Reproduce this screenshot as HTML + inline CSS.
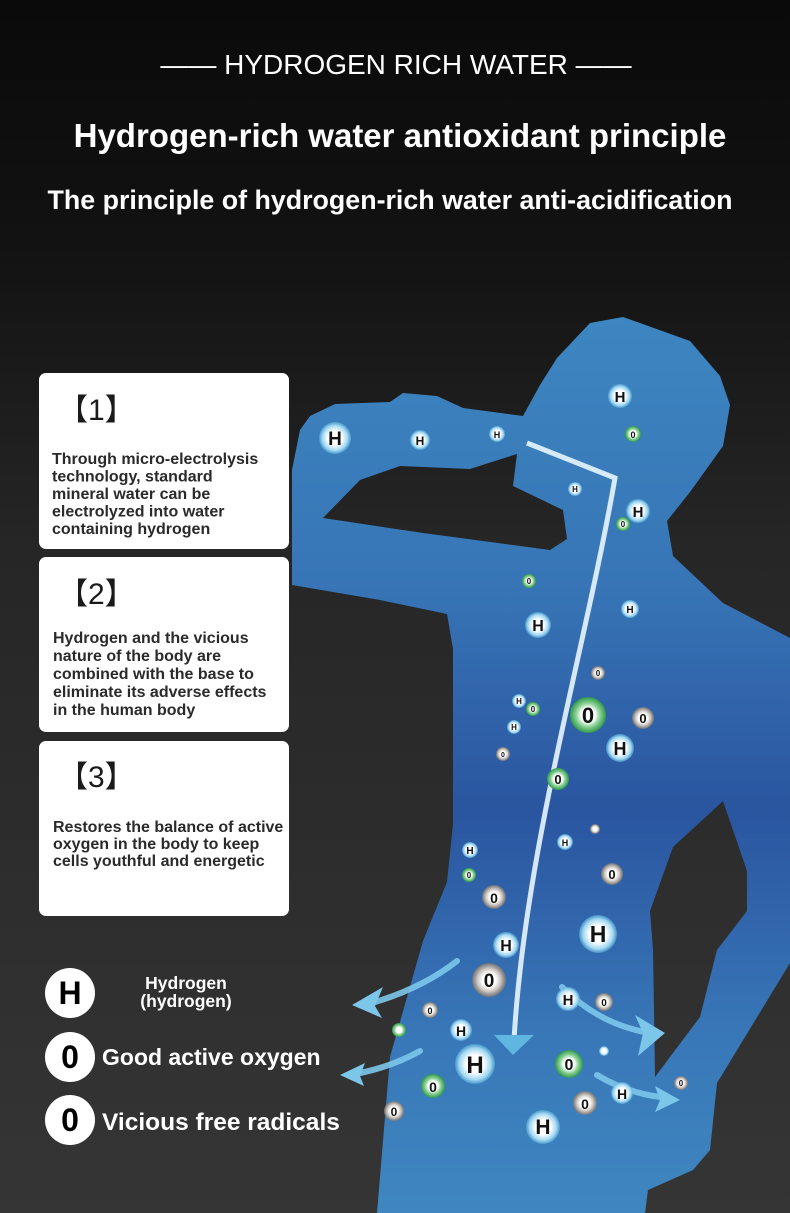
<!DOCTYPE html>
<html><head><meta charset="utf-8"><style>
html,body{margin:0;padding:0;width:790px;height:1213px;overflow:hidden;background:#111}
svg{display:block}
text{font-family:"Liberation Sans","DejaVu Sans",sans-serif}
</style></head><body>
<svg width="790" height="1213" viewBox="0 0 790 1213" xmlns="http://www.w3.org/2000/svg">
<defs>
<linearGradient id="bg" x1="0" y1="0" x2="0" y2="1">
<stop offset="0" stop-color="#0a0a0a"/><stop offset="0.2" stop-color="#121212"/><stop offset="0.45" stop-color="#262626"/><stop offset="1" stop-color="#353535"/>
</linearGradient>
<linearGradient id="body" x1="0" y1="0" x2="0" y2="1">
<stop offset="0" stop-color="#3d86c1"/><stop offset="0.3" stop-color="#3775b6"/><stop offset="0.55" stop-color="#2a55a0"/><stop offset="0.8" stop-color="#3877b8"/><stop offset="1" stop-color="#3f87c0"/>
</linearGradient>
<radialGradient id="gH" cx="0.5" cy="0.5" r="0.5"><stop offset="0.45" stop-color="#ffffff"/><stop offset="0.8" stop-color="#9fd6f0"/><stop offset="1" stop-color="#5ab0de" stop-opacity="0.6"/></radialGradient>
<radialGradient id="gG" cx="0.5" cy="0.5" r="0.5"><stop offset="0.4" stop-color="#ffffff"/><stop offset="0.65" stop-color="#8fd39a"/><stop offset="1" stop-color="#2f9a48"/></radialGradient>
<radialGradient id="gR" cx="0.5" cy="0.5" r="0.5"><stop offset="0.4" stop-color="#ffffff"/><stop offset="0.7" stop-color="#c9c2bc"/><stop offset="1" stop-color="#7d7670" stop-opacity="0.8"/></radialGradient>
</defs>
<rect width="790" height="1213" fill="url(#bg)"/>

<!-- titles -->
<text x="396" y="74" fill="#fff" font-size="28" text-anchor="middle">—— HYDROGEN RICH WATER ——</text>
<text x="400" y="147" fill="#fff" font-size="33" font-weight="bold" text-anchor="middle">Hydrogen-rich water antioxidant principle</text>
<text x="390" y="209" fill="#fff" font-size="26.8" font-weight="bold" text-anchor="middle">The principle of hydrogen-rich water anti-acidification</text>

<!-- body -->
<path fill="url(#body)" fill-rule="evenodd" d="
M310 416 L335 404 L390 402 L403 393 L437 396 L463 408 L523 416 L540 385 L557 358 L590 323 L623 317 L690 341 L720 376 L730 405 L723 446 L690 492 L667 521 L673 556 L723 603 L790 638 L790 963 L717 1083 L710 1150 L693 1170 L648 1190 L645 1213 L377 1213 L390 1057 L423 941 L447 882 L453 824 L453 649 L447 614 L380 600 L292 585 L292 470 L300 430 Z
M323 518 L360 480 L400 466 L470 469 L517 454 L513 486 L563 510 L567 539 L550 550 L423 533 Z
M650 911 L673 847 L723 801 L747 871 L747 911 L717 950 L700 1017 L655 1077 L653 950 Z"/>

<!-- main arrow -->
<path d="M527 443 L615 478 C585 650 525 850 514 1040" stroke="#e8f6ff" stroke-width="5" fill="none" opacity="0.9"/>
<path d="M494 1035 L534 1035 L513 1055 Z" fill="#5fb6e0"/>

<!-- side arrows -->
<g fill="none" stroke="#7cc6ea" stroke-width="6" stroke-linecap="round" opacity="0.9">
<path d="M457 961 Q420 990 365 1005"/>
<path d="M420 1051 Q390 1068 350 1075"/>
<path d="M562 987 Q600 1025 650 1033"/>
<path d="M597 1075 Q630 1095 670 1098"/>
</g>
<g fill="#7cc6ea">
<path d="M352 1005 L383 987 L375 1006 L382 1018 Z"/>
<path d="M340 1075 L365 1063 L360 1076 L364 1086 Z"/>
<path d="M665 1033 L635 1015 L643 1033 L638 1056 Z"/>
<path d="M680 1100 L655 1086 L660 1100 L655 1112 Z"/>
</g>

<!-- molecules -->
<g font-weight="bold" text-anchor="middle" fill="#111">
<circle cx="335" cy="438" r="16" fill="url(#gH)"/><text x="335" y="445" font-size="19">H</text>
<circle cx="420" cy="440" r="10" fill="url(#gH)"/><text x="420" y="445" font-size="12">H</text>
<circle cx="497" cy="434" r="8" fill="url(#gH)"/><text x="497" y="438" font-size="9">H</text>
<circle cx="620" cy="396" r="12" fill="url(#gH)"/><text x="620" y="402" font-size="15">H</text>
<circle cx="633" cy="434" r="8" fill="url(#gG)"/><text x="633" y="438" font-size="9">0</text>
<circle cx="575" cy="489" r="7" fill="url(#gH)"/><text x="575" y="492" font-size="8">H</text>
<circle cx="638" cy="511" r="12" fill="url(#gH)"/><text x="638" y="517" font-size="15">H</text>
<circle cx="623" cy="524" r="7" fill="url(#gG)"/><text x="623" y="527" font-size="8">0</text>
<circle cx="529" cy="581" r="7" fill="url(#gG)"/><text x="529" y="584" font-size="8">0</text>
<circle cx="538" cy="625" r="13" fill="url(#gH)"/><text x="538" y="631" font-size="16">H</text>
<circle cx="630" cy="609" r="9" fill="url(#gH)"/><text x="630" y="613" font-size="10">H</text>
<circle cx="598" cy="673" r="7" fill="url(#gR)"/><text x="598" y="676" font-size="8">0</text>
<circle cx="519" cy="701" r="7" fill="url(#gH)"/><text x="519" y="704" font-size="8">H</text>
<circle cx="533" cy="709" r="7" fill="url(#gG)"/><text x="533" y="712" font-size="8">0</text>
<circle cx="588" cy="715" r="18" fill="url(#gG)"/><text x="588" y="723" font-size="22">0</text>
<circle cx="643" cy="718" r="11" fill="url(#gR)"/><text x="643" y="723" font-size="13">0</text>
<circle cx="514" cy="727" r="7" fill="url(#gH)"/><text x="514" y="730" font-size="8">H</text>
<circle cx="620" cy="748" r="14" fill="url(#gH)"/><text x="620" y="755" font-size="18">H</text>
<circle cx="503" cy="754" r="7" fill="url(#gR)"/><text x="503" y="757" font-size="7">0</text>
<circle cx="558" cy="779" r="11" fill="url(#gG)"/><text x="558" y="784" font-size="13">0</text>
<circle cx="595" cy="829" r="5" fill="url(#gR)"/>
<circle cx="565" cy="842" r="8" fill="url(#gH)"/><text x="565" y="846" font-size="9">H</text>
<circle cx="470" cy="850" r="8" fill="url(#gH)"/><text x="470" y="854" font-size="10">H</text>
<circle cx="469" cy="875" r="7" fill="url(#gG)"/><text x="469" y="878" font-size="8">0</text>
<circle cx="612" cy="874" r="11" fill="url(#gR)"/><text x="612" y="879" font-size="13">0</text>
<circle cx="494" cy="897" r="12" fill="url(#gR)"/><text x="494" y="903" font-size="14">0</text>
<circle cx="506" cy="945" r="13" fill="url(#gH)"/><text x="506" y="951" font-size="16">H</text>
<circle cx="598" cy="934" r="19" fill="url(#gH)"/><text x="598" y="942" font-size="23">H</text>
<circle cx="489" cy="980" r="17" fill="url(#gR)"/><text x="489" y="987" font-size="19">0</text>
<circle cx="568" cy="999" r="12" fill="url(#gH)"/><text x="568" y="1005" font-size="15">H</text>
<circle cx="604" cy="1002" r="9" fill="url(#gR)"/><text x="604" y="1006" font-size="10">0</text>
<circle cx="430" cy="1010" r="8" fill="url(#gR)"/><text x="430" y="1014" font-size="9">0</text>
<circle cx="399" cy="1030" r="7" fill="url(#gG)"/>
<circle cx="461" cy="1030" r="11" fill="url(#gH)"/><text x="461" y="1036" font-size="14">H</text>
<circle cx="475" cy="1064" r="20" fill="url(#gH)"/><text x="475" y="1073" font-size="24">H</text>
<circle cx="569" cy="1064" r="14" fill="url(#gG)"/><text x="569" y="1070" font-size="16">0</text>
<circle cx="604" cy="1051" r="5" fill="url(#gH)"/>
<circle cx="433" cy="1086" r="12" fill="url(#gG)"/><text x="433" y="1092" font-size="14">0</text>
<circle cx="394" cy="1111" r="10" fill="url(#gR)"/><text x="394" y="1116" font-size="12">0</text>
<circle cx="585" cy="1103" r="12" fill="url(#gR)"/><text x="585" y="1109" font-size="14">0</text>
<circle cx="622" cy="1093" r="11" fill="url(#gH)"/><text x="622" y="1099" font-size="14">H</text>
<circle cx="681" cy="1083" r="7" fill="url(#gR)"/><text x="681" y="1086" font-size="8">0</text>
<circle cx="543" cy="1127" r="17" fill="url(#gH)"/><text x="543" y="1134" font-size="21">H</text>
</g>

<!-- cards -->
<g fill="#fff">
<rect x="39" y="373" width="250" height="176" rx="7"/>
<rect x="39" y="557" width="250" height="175" rx="7"/>
<rect x="39" y="741" width="250" height="175" rx="7"/>
</g>
<g fill="#1a1a1a" font-size="30">
<text x="58" y="420" font-family="'Liberation Sans','Noto Sans CJK SC',sans-serif">【1】</text>
<text x="58" y="604" font-family="'Liberation Sans','Noto Sans CJK SC',sans-serif">【2】</text>
<text x="58" y="787" font-family="'Liberation Sans','Noto Sans CJK SC',sans-serif">【3】</text>
</g>
<g fill="#2a2a2a" font-size="16" font-weight="bold">
<text x="52" y="464">Through micro-electrolysis</text>
<text x="52" y="481.5">technology, standard</text>
<text x="52" y="499">mineral water can be</text>
<text x="52" y="516.5">electrolyzed into water</text>
<text x="52" y="534">containing hydrogen</text>
<text x="53" y="643">Hydrogen and the vicious</text>
<text x="53" y="661">nature of the body are</text>
<text x="53" y="679">combined with the base to</text>
<text x="53" y="697">eliminate its adverse effects</text>
<text x="53" y="715">in the human body</text>
<text x="53" y="832">Restores the balance of active</text>
<text x="53" y="849">oxygen in the body to keep</text>
<text x="53" y="866">cells youthful and energetic</text>
</g>

<!-- legend -->
<g fill="#fff">
<circle cx="70" cy="993" r="25"/><circle cx="70" cy="1057" r="25"/><circle cx="70" cy="1120" r="25"/>
</g>
<g fill="#000" font-size="32" font-weight="bold" text-anchor="middle">
<text x="70" y="1004">H</text><text x="70" y="1068">0</text><text x="70" y="1131">0</text>
</g>
<g fill="#fff" font-weight="bold">
<text x="186" y="989" font-size="17.5" text-anchor="middle">Hydrogen</text>
<text x="186" y="1007" font-size="17.5" text-anchor="middle">(hydrogen)</text>
<text x="102" y="1065" font-size="23">Good active oxygen</text>
<text x="102" y="1130" font-size="24.5">Vicious free radicals</text>
</g>
</svg>
</body></html>
